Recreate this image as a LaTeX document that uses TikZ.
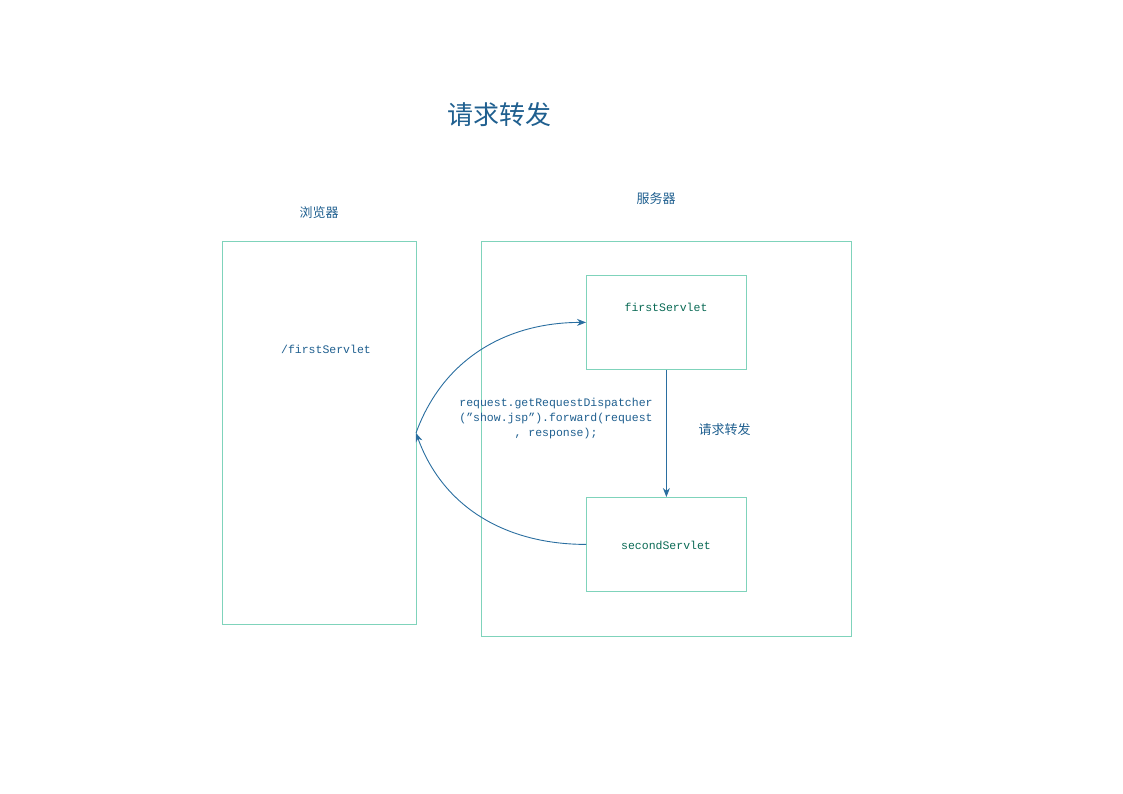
\documentclass[tikz,border=0pt]{standalone}
\usepackage{fontspec}
\setmonofont{Liberation Mono}
\newfontfamily\cjk{Noto Sans CJK SC}
\usetikzlibrary{arrows.meta}
\definecolor{boxline}{HTML}{7FD3BB}
\definecolor{textblue}{HTML}{1F5F8F}
\definecolor{textgreen}{HTML}{0A6A55}
\definecolor{arrowblue}{HTML}{2A6EA0}
\begin{document}
\begin{tikzpicture}[x=1pt,y=-1pt,
  panel/.style={draw=boxline,line width=0.8pt},
  servlet/.style={draw=boxline,line width=0.8pt,minimum width=160pt,minimum height=94pt,inner sep=0pt},
  monotext/.style={font=\ttfamily\fontsize{11.5}{15}\selectfont},
  cjktext/.style={font=\cjk\fontsize{13}{15}\selectfont,text=textblue},
  conn/.style={draw=arrowblue,line width=0.9pt,-{Stealth[length=9pt,width=7pt]}}]
\useasboundingbox (0,0) rectangle (1123,794);
% title
\node[font=\cjk\fontsize{26}{30}\selectfont,text=textblue] (title) at (499,115) {请求转发};
% browser
\node[cjktext] (browserlbl) at (319,213) {浏览器};
\draw[panel] (222,241) rectangle (416,624);
\coordinate (bR) at (416,433);
\node[monotext,text=textblue] (url) at (326,349) {/firstServlet};
% server
\node[cjktext] (serverlbl) at (656,199) {服务器};
\draw[panel] (481,241) rectangle (851,636);
\node[servlet,anchor=north west] (first) at (586,275) {};
\node[monotext,text=textgreen] (firstlbl) at (666,307) {firstServlet};
\node[servlet,anchor=north west] (second) at (586,497) {};
\node[monotext,text=textgreen] (secondlbl) at (666,545) {secondServlet};
% connectors
\draw[conn] (first.south) -- (second.north);
\node[cjktext,anchor=west] (fwd) at (695,430) {请求转发};
\draw[conn] (second.west) to[out=180,in=-70] (bR);
\draw[conn] (bR) to[out=70,in=180] (first.west);
\node[monotext,text=textblue,align=center] (code) at (556,419) {request.getRequestDispatcher\\(”show.jsp”).forward(request\\, response);};
\end{tikzpicture}
\end{document}
